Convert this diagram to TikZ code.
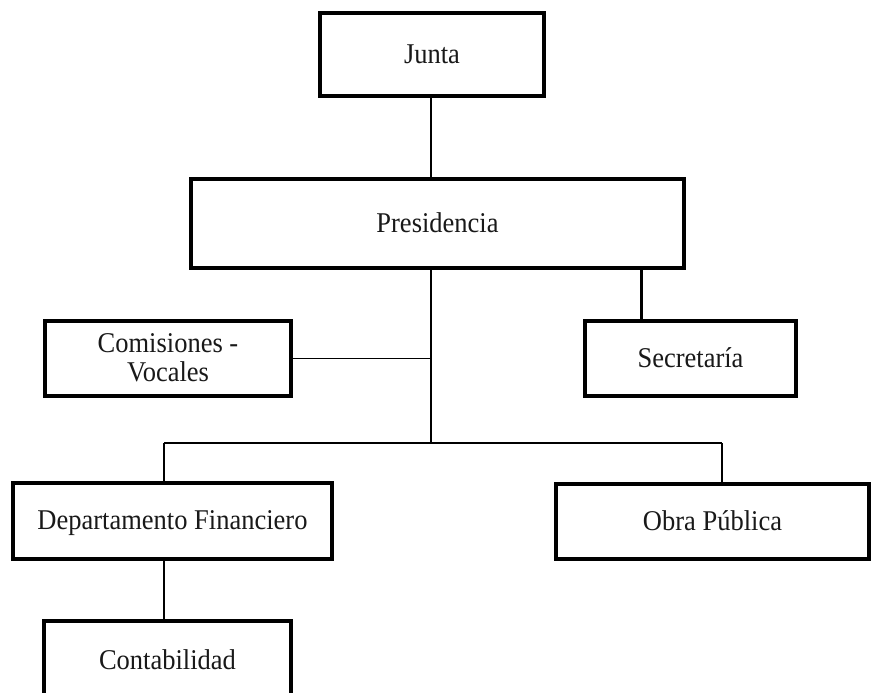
\documentclass[tikz,border=0pt]{standalone}
\usepackage{graphicx}
\usepackage{fontspec}
\setmainfont{Liberation Serif}
\newcommand{\boxtext}[1]{\scalebox{1}[1.08]{\begin{tabular}{@{}c@{}}#1\end{tabular}}}
\begin{document}
\begin{tikzpicture}[x=1pt,y=-1pt,
  box/.style={draw=black,line width=4pt,rectangle,inner sep=0pt},
  lbl/.style={inner sep=0pt,yshift=-3pt,font=\fontsize{26.5}{26}\selectfont,text=black!90},
  conn/.style={draw=black,line width=1.4pt},
  connthick/.style={draw=black,line width=3pt}]
\useasboundingbox (0,0) rectangle (878,693);
\fill[white] (0,0) rectangle (878,693);
\node[box,minimum width=224pt,minimum height=83pt,label={[lbl]center:\boxtext{Junta}}] (junta) at (432,54.5) {};
\node[box,minimum width=493pt,minimum height=89pt,label={[lbl]center:\boxtext{Presidencia}}] (pres) at (437.5,223.5) {};
\node[box,minimum width=246pt,minimum height=75pt,label={[lbl]center:\boxtext{Comisiones -\\Vocales}}] (com) at (168,358.5) {};
\node[box,minimum width=211pt,minimum height=75pt,label={[lbl]center:\boxtext{Secretaría}}] (sec) at (690.5,358.5) {};
\node[box,minimum width=319pt,minimum height=76pt,label={[lbl]center:\boxtext{Departamento Financiero}}] (dep) at (172.5,521) {};
\node[box,minimum width=313pt,minimum height=75pt,label={[lbl]center:\boxtext{Obra Pública}}] (obra) at (712.5,521.5) {};
\node[box,minimum width=247pt,minimum height=79pt,label={[lbl]center:\boxtext{Contabilidad}}] (cont) at (167.5,660.5) {};
\coordinate (bus) at (431,443);
\coordinate (busl) at (164,443);
\coordinate (busr) at (722,443);
\coordinate (sx) at (641,0);
\draw[conn] (junta.south -| bus) -- (pres.north -| bus);
\draw[conn] (pres.south -| bus) -- (bus);
\draw[conn] (com.east) -- (com.east -| bus);
\draw[connthick] (pres.south -| sx) -- (sec.north -| sx);
\draw[conn] (busl) -- (busr);
\draw[conn] (busl) -- (dep.north -| busl);
\draw[conn] (busr) -- (obra.north -| busr);
\draw[conn] (dep.south -| busl) -- (cont.north -| busl);
\end{tikzpicture}
\end{document}
